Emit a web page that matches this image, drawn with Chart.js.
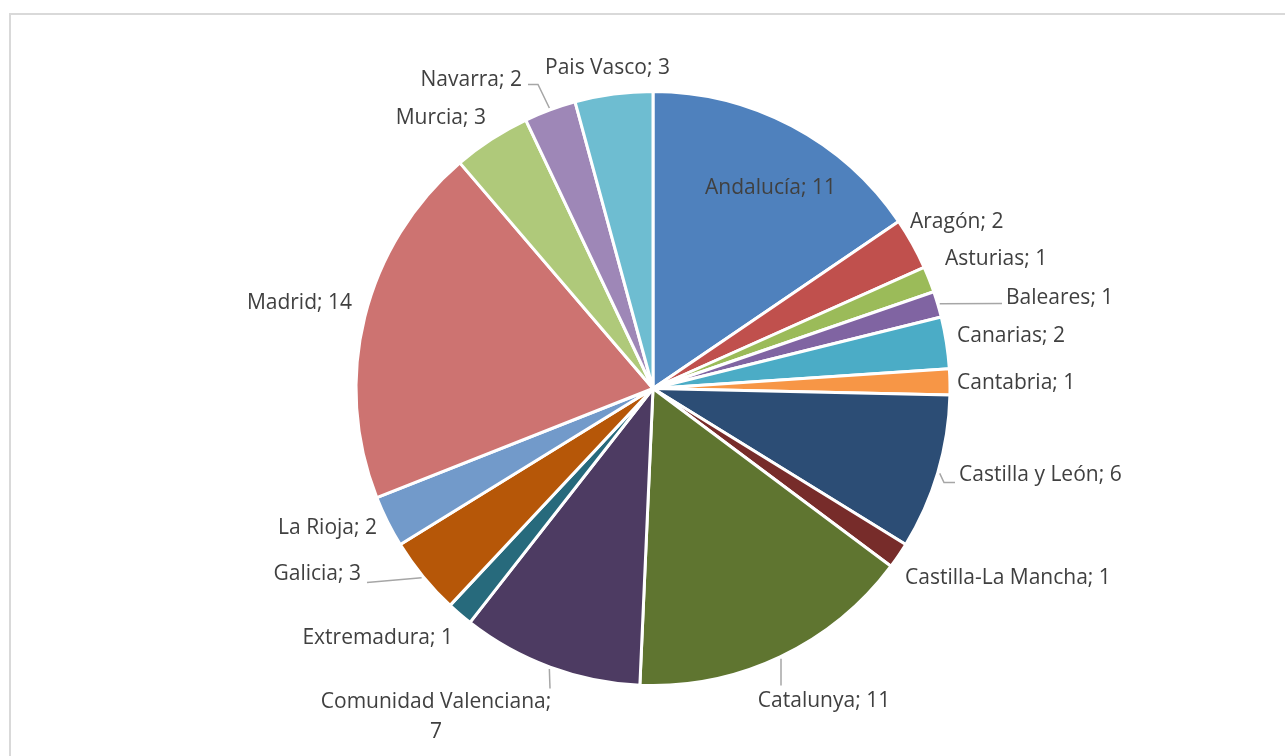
<!DOCTYPE html>
<html><head><meta charset="utf-8">
<script src="https://cdn.jsdelivr.net/npm/chart.js@4.4.1/dist/chart.umd.min.js"></script>
<style>
html,body{margin:0;padding:0;background:#fff;overflow:hidden;}
#wrap{position:relative;width:1285px;height:756px;}
#frame{position:absolute;left:9px;top:13px;width:1320px;height:800px;border:2px solid #d9d9d9;box-sizing:border-box;pointer-events:none;}
canvas{position:absolute;left:0;top:0;}
</style></head><body>
<div id="wrap"><canvas id="c" width="1285" height="756"></canvas><div id="frame"></div></div>
<script>
const categories = ["Andalucía","Aragón","Asturias","Baleares","Canarias","Cantabria","Castilla y León","Castilla-La Mancha","Catalunya","Comunidad Valenciana","Extremadura","Galicia","La Rioja","Madrid","Murcia","Navarra","Pais Vasco"];
const values = [11,2,1,1,2,1,6,1,11,7,1,3,2,14,3,2,3];
const colors = ["#4F81BD","#C0504D","#9BBB59","#8064A2","#4BACC6","#F79646","#2C4D75","#772C2A","#5F7530","#4D3B62","#276A7C","#B65708","#729ACA","#CD7371","#AFC97A","#9E87B7","#6EBDD1"];

// Label layout: offsets from pie centre in px at reference radius 297
const REF_R = 297;
const labelLayout = [
  {x:117.5, y:-200.5, align:"center"},                         // Andalucía
  {x:257, y:-166, align:"left"},                               // Aragón
  {x:292, y:-129, align:"left"},                               // Asturias
  {x:353, y:-90.5, align:"left", leader:[[349,-85]]},          // Baleares
  {x:304, y:-52.5, align:"left"},                              // Canarias
  {x:304, y:-5.5, align:"left"},                               // Cantabria
  {x:306, y:86.5, align:"left", leader:[[291,94],[302,94]]},   // Castilla y León
  {x:252, y:189.5, align:"left"},                              // Castilla-La Mancha
  {x:171, y:312.5, align:"center", leader:[[128,297]]},        // Catalunya
  {x:-217, y:329, align:"center", wrap:true, leader:[[-103,300]]}, // Comunidad Valenciana
  {x:-200, y:249.5, align:"right"},                            // Extremadura
  {x:-292, y:186, align:"right", leader:[[-286,194]]},         // Galicia
  {x:-276, y:139.5, align:"right"},                            // La Rioja
  {x:-301, y:-85.2, align:"right"},                            // Madrid
  {x:-167, y:-270, align:"right"},                             // Murcia
  {x:-131, y:-308.5, align:"right", leader:[[-115,-304],[-125,-304]]}, // Navarra
  {x:-45.5, y:-320, align:"center"}                            // Pais Vasco
];

const labelPlugin = {
  id:"pieLabels",
  afterDatasetsDraw(chart){
    const ctx = chart.ctx;
    const meta = chart.getDatasetMeta(0);
    ctx.save();
    meta.data.forEach((arc,i)=>{
      const p = arc.getProps(["x","y","startAngle","endAngle","outerRadius"], true);
      const k = p.outerRadius / REF_R;
      const L = labelLayout[i];
      const mid = (p.startAngle + p.endAngle)/2;
      if (L.leader){
        ctx.beginPath();
        ctx.strokeStyle = "#a6a6a6";
        ctx.lineWidth = 1.5;
        ctx.moveTo(p.x + Math.cos(mid)*(p.outerRadius+2), p.y + Math.sin(mid)*(p.outerRadius+2));
        L.leader.forEach(pt=>ctx.lineTo(p.x + pt[0]*k, p.y + pt[1]*k));
        ctx.stroke();
      }
      ctx.fillStyle = "#404040";
      ctx.font = '21px "Open Sans"';
      ctx.textAlign = L.align;
      ctx.textBaseline = "middle";
      const tx = p.x + L.x*k, ty = p.y + L.y*k;
      if (L.wrap){
        ctx.fillText(categories[i] + ";", tx, ty - 15);
        ctx.fillText(String(values[i]), tx, ty + 15);
      } else {
        ctx.fillText(categories[i] + "; " + values[i], tx, ty);
      }
    });
    ctx.restore();
  }
};

new Chart(document.getElementById("c"), {
  type:"pie",
  data:{labels:categories, datasets:[{data:values, backgroundColor:colors, borderColor:"#ffffff", borderWidth:3}]},
  options:{
    responsive:false, animation:false,
    layout:{padding:{top:90, bottom:69, left:300, right:279}},
    plugins:{legend:{display:false}, tooltip:{enabled:false}}
  },
  plugins:[labelPlugin]
});
</script>
</body></html>
